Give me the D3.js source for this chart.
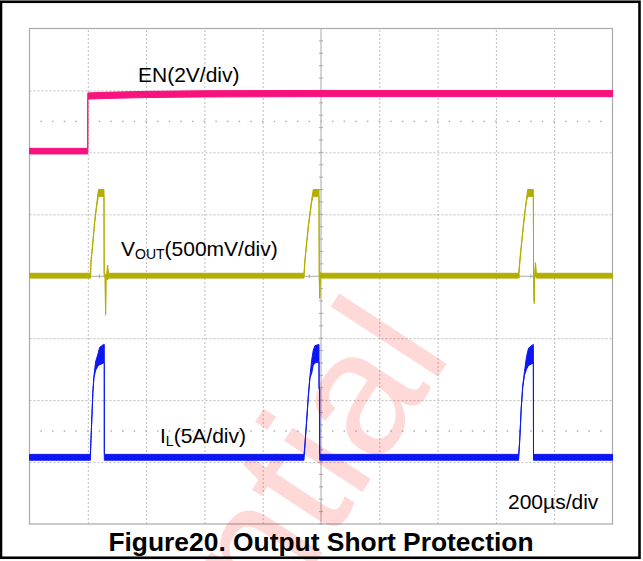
<!DOCTYPE html>
<html>
<head>
<meta charset="utf-8">
<script src="https://cdn.jsdelivr.net/npm/d3@7"></script>
<style>
  html, body { margin: 0; padding: 0; background: #fff; }
  svg { display: block; }
  text { font-family: Arial, "Liberation Sans", sans-serif; fill: #000; }
</style>
</head>
<body>
<svg id="chart" width="643" height="561"></svg>
<script>
// ---- data -------------------------------------------------------------
// Time base: 10 divisions of 200 µs
const timeTicks = [0, 200, 400, 600, 800, 1000, 1200, 1400, 1600, 1800, 2000];
// Vertical divisions
const levelTicks = [-4, -3, -2, -1, 0, 1, 2, 3, 4];

// Channel traces as envelopes: [time µs, low, high]
// EN in volts (2 V/div)
const enTrace = [
  [0, -0.05, 0.13], [199.8, -0.05, 0.13],
  [200, 1.72, 1.92], [260, 1.74, 1.94], [400, 1.77, 1.97],
  [600, 1.79, 1.99], [1000, 1.80, 2.00], [2000, 1.80, 2.00]
];

// VOUT in volts (500 mV/div)
const voutTrace = [
  [0, -0.015, 0.024], [209.6, -0.015, 0.024],
  [210.5, 0.10, 0.12], [216.5, 0.24, 0.26], [223.4, 0.425, 0.445],
  [230.2, 0.56, 0.58], [236.5, 0.645, 0.70], [255.5, 0.645, 0.70],
  [256.2, 0.00, 0.02], [259.5, -0.005, 0.02], [261, -0.314, -0.30],
  [262.5, -0.03, 0.01], [265, -0.015, 0.024], [268, -0.03, 0.09],
  [271, -0.015, 0.024],
  [941.6, -0.015, 0.024],
  [945, 0.12, 0.14], [956.4, 0.39, 0.41], [968, 0.60, 0.62],
  [973.5, 0.645, 0.70], [993.1, 0.645, 0.70],
  [994, 0.00, 0.02], [995.5, -0.18, -0.165], [997.5, 0.00, 0.03],
  [1001.7, -0.015, 0.024],
  [1678, -0.015, 0.024],
  [1683.8, 0.155, 0.175], [1695.2, 0.42, 0.44], [1704.5, 0.60, 0.62],
  [1709, 0.645, 0.70], [1728.5, 0.645, 0.70],
  [1729.3, 0.00, 0.02], [1731.5, -0.22, -0.20], [1733, 0.00, 0.03],
  [1736, 0.00, 0.11], [1739, -0.015, 0.024],
  [2000, -0.015, 0.024]
];

// IL in amps (5 A/div)
const ilTrace = [
  [0, 0.15, 0.62], [208.6, 0.15, 0.62],
  [211, 1.8, 1.9], [217.5, 5.6, 5.75], [221, 6.8, 6.95],
  [226.8, 7.4, 8.1], [234.7, 7.75, 8.7], [240.5, 7.85, 9.25],
  [254, 8.0, 9.5], [256.5, 8.0, 9.5],
  [256.7, 0.15, 0.62],
  [941.6, 0.15, 0.62],
  [944.5, 1.2, 1.3], [950.9, 3.3, 3.45], [956.4, 5.2, 5.35],
  [962.2, 6.8, 6.95], [968, 7.17, 8.22], [973.5, 7.82, 9.03],
  [979.4, 8.0, 9.4], [993.1, 8.08, 9.49],
  [993.4, 5.9, 6.0], [995.3, 5.9, 6.0],
  [995.5, 0.15, 0.62],
  [1678, 0.15, 0.62],
  [1681.5, 1.6, 1.75], [1687, 4.3, 4.45], [1692, 6.0, 6.15],
  [1698, 7.0, 7.3], [1705, 7.5, 8.5], [1712, 7.8, 9.2],
  [1728.5, 8.0, 9.5],
  [1729, 0.15, 0.62],
  [2000, 0.15, 0.62]
];

// Channel settings: units per division and ground position (in divisions)
const channelNames = ["EN", "VOUT", "IL"];
const unitsPerDiv = [2, 0.5, 5];
const groundDiv = [2, 0, -3];

const timeBaseLabel = "200µs/div";
const captionText = "Figure20. Output Short Protection";
const watermarkText = "Confidential";

// ---- layout -----------------------------------------------------------
const plot = { left: 29.5, right: 612.5, top: 28.5, bottom: 524 };
const svg = d3.select("#chart");

const x = d3.scaleLinear().domain([0, 2000]).range([plot.left, plot.right]);
const yDiv = d3.scaleLinear().domain([-4, 4]).range([plot.bottom, plot.top]);

function channelScale(i) {
  const u = unitsPerDiv[i], g = groundDiv[i];
  return d3.scaleLinear()
    .domain([(-4 - g) * u, (4 - g) * u])
    .range([plot.bottom, plot.top]);
}

// ---- graticule --------------------------------------------------------
const grid = svg.append("g");

grid.append("g")
  .attr("transform", `translate(0,${plot.bottom})`)
  .call(d3.axisBottom(x).tickValues(timeTicks.slice(1, -1).filter(t => t !== 1000))
    .tickSize(-(plot.bottom - plot.top)).tickFormat(""))
  .call(g => g.select(".domain").remove())
  .selectAll("line")
  .attr("stroke", "#bcbcbc").attr("stroke-dasharray", "2,2");

grid.append("g")
  .attr("transform", `translate(${plot.left},0)`)
  .call(d3.axisLeft(yDiv).tickValues(levelTicks.slice(1, -1).filter(v => v !== 0))
    .tickSize(-(plot.right - plot.left)).tickFormat(""))
  .call(g => g.select(".domain").remove())
  .selectAll("line")
  .attr("stroke", "#bcbcbc").attr("stroke-dasharray", "2,2");

// sparse dotted reference levels
const minorT = d3.range(40, 2000, 40);
[2.5, -2.5].forEach(lv => {
  grid.selectAll(null).data(minorT).join("rect")
    .attr("x", d => x(d) - 0.75).attr("y", yDiv(lv) - 0.75)
    .attr("width", 1.5).attr("height", 1.5).attr("fill", "#b0b0b0");
});

// centre cross with minor ticks
const cx = x(1000), cy = yDiv(0);
grid.append("line").attr("x1", cx).attr("x2", cx)
  .attr("y1", plot.top).attr("y2", plot.bottom)
  .attr("stroke", "#a8a8a8").attr("stroke-width", 1);
grid.append("line").attr("x1", plot.left).attr("x2", plot.right)
  .attr("y1", cy).attr("y2", cy)
  .attr("stroke", "#a8a8a8").attr("stroke-width", 1);
grid.selectAll(null).data(d3.range(-4, 4.01, 0.2)).join("line")
  .attr("x1", cx - 2).attr("x2", cx + 2)
  .attr("y1", d => yDiv(d)).attr("y2", d => yDiv(d))
  .attr("stroke", "#a8a8a8");
grid.selectAll(null).data(minorT).join("line")
  .attr("x1", d => x(d)).attr("x2", d => x(d))
  .attr("y1", cy - 2).attr("y2", cy + 2)
  .attr("stroke", "#a8a8a8");

// plot frame
grid.append("rect")
  .attr("x", plot.left).attr("y", plot.top)
  .attr("width", plot.right - plot.left).attr("height", plot.bottom - plot.top)
  .attr("fill", "none").attr("stroke", "#a9a9a9").attr("stroke-width", 1.2);

// ---- watermark --------------------------------------------------------
svg.append("text")
  .attr("transform", "translate(453,354) rotate(-56.7)")
  .attr("text-anchor", "end")
  .style("font-size", "177px")
  .style("fill", "#ff0000")
  .style("opacity", 0.15)
  .text(watermarkText);

// ---- traces -----------------------------------------------------------
const traces = [enTrace, voutTrace, ilTrace];
const colors = ["#f8127e", "#b3ad00", "#0b16f2"];

traces.forEach((data, i) => {
  const y = channelScale(i);
  const area = d3.area()
    .x(d => x(d[0]))
    .y0(d => y(d[1]))
    .y1(d => y(d[2]));
  svg.append("path")
    .datum(data)
    .attr("d", area)
    .attr("fill", colors[i])
    .attr("stroke", colors[i])
    .attr("stroke-width", 1)
    .attr("stroke-linejoin", "round");
});

// ---- channel labels ---------------------------------------------------
svg.append("text").attr("x", 138).attr("y", 82)
  .style("font-size", "21px").text("EN(2V/div)");

const vLab = svg.append("text").attr("x", 121).attr("y", 256).style("font-size", "21px");
vLab.append("tspan").text("V");
vLab.append("tspan").attr("dy", 3).style("font-size", "14px").text("OUT");
vLab.append("tspan").attr("dy", -3).text("(500mV/div)");

const iLab = svg.append("text").attr("x", 160).attr("y", 443).style("font-size", "21px");
iLab.append("tspan").text("I");
iLab.append("tspan").attr("dy", 3).style("font-size", "14px").text("L");
iLab.append("tspan").attr("dy", -3).text("(5A/div)");

svg.append("text").attr("x", 508).attr("y", 509)
  .style("font-size", "21px").text(timeBaseLabel);

// ---- caption and outer frame -----------------------------------------
svg.append("text").attr("x", 321).attr("y", 551)
  .attr("text-anchor", "middle")
  .style("font-size", "26.4px").style("font-weight", "bold")
  .text(captionText);

svg.append("rect")
  .attr("x", 1).attr("y", 1.75)
  .attr("width", 638.5).attr("height", 556)
  .attr("fill", "none").attr("stroke", "#000").attr("stroke-width", 2.6);
</script>
</body>
</html>
